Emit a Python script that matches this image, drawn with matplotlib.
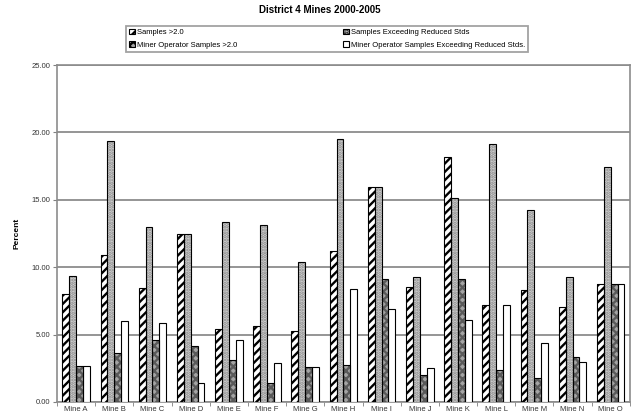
import matplotlib
matplotlib.use("Agg")
import matplotlib.pyplot as plt
import numpy as np
from matplotlib.patches import Patch

mines = ["Mine A", "Mine B", "Mine C", "Mine D", "Mine E", "Mine F", "Mine G", "Mine H",
         "Mine I", "Mine J", "Mine K", "Mine L", "Mine M", "Mine N", "Mine O"]
samples_gt2 = [8.01, 10.89, 8.44, 12.48, 5.41, 5.61, 5.24, 11.17, 15.96, 8.56, 18.21, 7.17, 8.34, 7.07, 8.73]
samples_exc = [9.35, 19.33, 12.95, 12.48, 13.35, 13.10, 10.40, 19.53, 15.96, 9.31, 15.16, 19.11, 14.22, 9.26, 17.42]
op_gt2 = [2.68, 3.62, 4.57, 4.19, 3.10, 1.44, 2.63, 2.78, 9.11, 2.03, 9.11, 2.41, 1.81, 3.35, 8.73]
op_exc = [2.68, 6.03, 5.83, 1.44, 4.59, 2.88, 2.63, 8.39, 6.87, 2.53, 6.08, 7.17, 4.34, 2.98, 8.73]
labels = ["Samples >2.0", "Samples Exceeding Reduced Stds",
          "Miner Operator Samples >2.0", "Miner Operator Samples Exceeding Reduced Stds."]
yticks = [0, 5, 10, 15, 20, 25]

plt.rcParams['font.family'] = ['Liberation Sans', 'DejaVu Sans']
plt.rcParams['hatch.linewidth'] = 1.7

fig = plt.figure(figsize=(6.35, 4.17), dpi=100)
ax = fig.add_axes([0.0898, 0.036, 0.902, 0.808])

x = np.arange(len(mines))
w = 0.18
offs = [-1.5 * w, -0.5 * w, 0.5 * w, 1.5 * w]

styles = [
    dict(face='white', hatch='////', hcol='black'),
    dict(face='#d4d4d4', hatch='.....', hcol='#8a8a8a'),
    dict(face='#a4a4a4', hatch='xxxx', hcol='#5a5a5a'),
    dict(face='white', hatch=None, hcol='black'),
]
series = [samples_gt2, samples_exc, op_gt2, op_exc]
handles = []
for vals, off, st, lab in zip(series, offs, styles, labels):
    ax.bar(x + off, vals, w, color=st['face'], hatch=st['hatch'], edgecolor=st['hcol'],
           linewidth=0, zorder=3)
    ax.bar(x + off, vals, w, fill=False, edgecolor='black', linewidth=0.8, zorder=4)
    handles.append(Patch(facecolor=st['face'], hatch=st['hatch'], edgecolor='black',
                         linewidth=0.8, label=lab))

ax.set_xlim(-0.5, len(mines) - 0.5)
ax.set_ylim(0, 25)
ax.set_yticks(yticks)
ax.set_yticklabels([f"{v:.2f}" for v in yticks], fontsize=5.5, color='#333333')
ax.set_xticks(x)
ax.set_xticklabels(mines, fontsize=5.5, color='#333333')
ax.tick_params(axis='x', length=0, pad=3)
ax.set_xticks(np.arange(-0.5, len(mines), 1), minor=True)
ax.tick_params(axis='x', which='minor', length=3, color='#808080', direction='out')
ax.tick_params(axis='y', length=3, color='#808080', pad=2)
ax.yaxis.grid(True, color='#8c8c8c', linewidth=1.3, zorder=0)
ax.set_axisbelow(True)
for s in ['left', 'right', 'top', 'bottom']:
    ax.spines[s].set_color('#8c8c8c')
    ax.spines[s].set_linewidth(1.2)

ax.set_ylabel("Percent", fontsize=6, fontweight='bold', labelpad=8)

fig.text(0.503, 0.976, "District 4 Mines 2000-2005", ha='center', va='center',
         fontsize=7, fontweight='bold')

order = [handles[0], handles[2], handles[1], handles[3]]
leg = fig.legend(handles=order, labels=[h.get_label() for h in order], ncol=2,
                 loc='lower left', bbox_to_anchor=(0.198, 0.875, 0.634, 0.077),
                 mode='expand', fontsize=5.5, frameon=True, fancybox=False,
                 handlelength=0.8, handleheight=0.8, handletextpad=0.3,
                 borderpad=0.4, labelspacing=0.7, borderaxespad=0)
leg.get_frame().set_edgecolor('#8c8c8c')
leg.get_frame().set_linewidth(1.3)

fig.savefig("out.png", dpi=100)
